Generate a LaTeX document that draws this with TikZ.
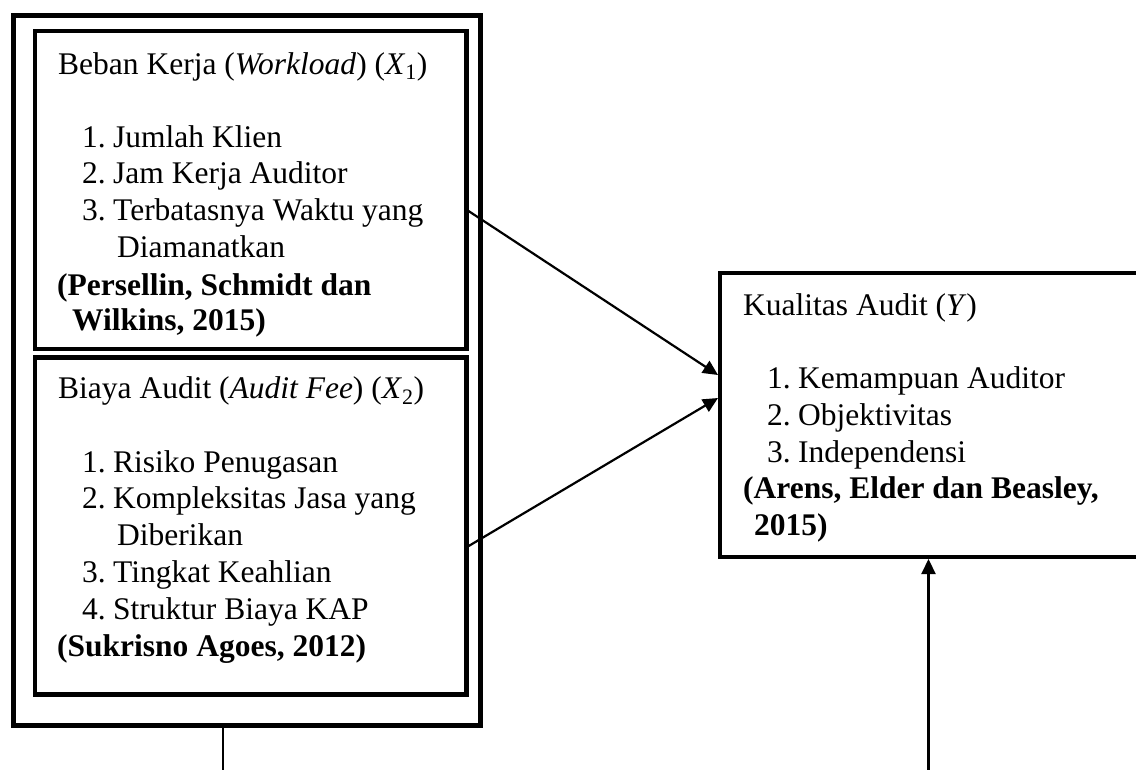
\documentclass[tikz,border=0pt]{standalone}
\usepackage{fontspec}
\setmainfont{Liberation Serif}
\usetikzlibrary{arrows.meta}
\tikzset{
  txt/.style={anchor=base west, inner sep=0pt, font=\fontsize{31.5}{37}\selectfont},
  bx/.style={draw, line width=4.5pt, inner sep=0pt, minimum width=#1},
  bx/.default=431.5pt,
  outerbx/.style={draw, line width=5pt, inner sep=0pt},
  conn/.style={line width=2.2pt, -{Triangle[length=15pt,width=14pt]}},
  plainln/.style={line width=2.2pt}
}
\newcommand\itm[1]{\makebox[31pt][l]{#1}}
\begin{document}
\begin{tikzpicture}[x=1pt,y=-1pt]
\useasboundingbox (0,0) rectangle (1136,769);
\fill[white] (0,0) rectangle (1136,769);
% boxes
\node[outerbx, minimum width=467.5pt, minimum height=710pt] (outer) at (246.75,370.5) {};
\node[bx, minimum height=318pt] (b1) at (250.75,190) {};
\node[bx, minimum height=337pt] (b2) at (250.75,526) {};
\node[bx=430pt, minimum height=284pt] (ybox) at (935,415) {};
% box 1 text
\node[txt] (t1) at (58,74) {Beban Kerja (\textit{Workload}) (\textit{X}\textsubscript{1})};
\node[txt] (t2) at (82,147) {\itm{1.}Jumlah Klien};
\node[txt] (t3) at (82,183.5) {\itm{2.}Jam Kerja Auditor};
\node[txt] (t4) at (82,220.5) {\itm{3.}Terbatasnya Waktu yang};
\node[txt] (t5) at (117,257.5) {Diamanatkan};
\node[txt] (t6) at (57,295) {\textbf{(Persellin, Schmidt dan}};
\node[txt] (t7) at (72,330) {\textbf{Wilkins, 2015)}};
% box 2 text
\node[txt] (u1) at (58,398.5) {Biaya Audit (\textit{Audit Fee}) (\textit{X}\textsubscript{2})};
\node[txt] (u2) at (82,472.5) {\itm{1.}Risiko Penugasan};
\node[txt] (u3) at (82,508.5) {\itm{2.}Kompleksitas Jasa yang};
\node[txt] (u4) at (117,545.5) {Diberikan};
\node[txt] (u5) at (82,582) {\itm{3.}Tingkat Keahlian};
\node[txt] (u6) at (82,619) {\itm{4.}Struktur Biaya KAP};
\node[txt] (u7) at (57,656.5) {\textbf{(Sukrisno Agoes, 2012)}};
% Y box text
\node[txt] (v1) at (743,315) {Kualitas Audit (\textit{Y})};
\node[txt] (v2) at (767,388) {\itm{1.}Kemampuan Auditor};
\node[txt] (v3) at (767,425) {\itm{2.}Objektivitas};
\node[txt] (v4) at (767,462) {\itm{3.}Independensi};
\node[txt] (v5) at (743,498.5) {\textbf{(Arens, Elder dan Beasley,}};
\node[txt] (v6) at (754,535) {\textbf{2015)}};
% connectors
\coordinate (s1) at (467,210);
\coordinate (e1) at (718,375);
\coordinate (s2) at (467,547);
\coordinate (e2) at (718,398);
\draw[conn] (s1) -- (e1);
\draw[conn] (s2) -- (e2);
\coordinate (l1) at (223,775);
\draw[plainln] (outer.south -| l1) -- (l1);
\coordinate (r1) at (928.5,775);
\coordinate (r2) at (928.5,559);
\draw[conn] (r1) -- (r2);
\end{tikzpicture}
\end{document}
